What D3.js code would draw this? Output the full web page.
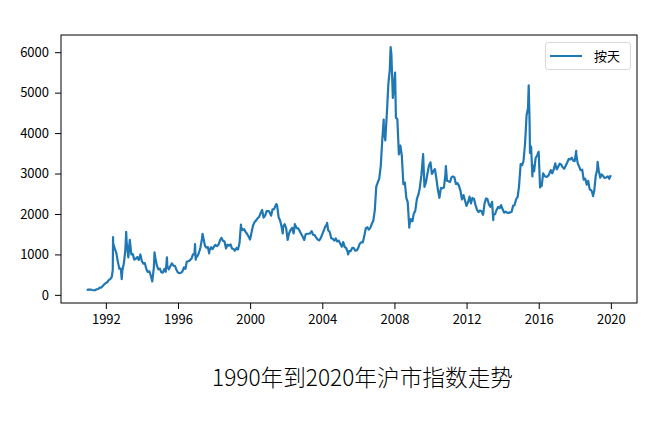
<!DOCTYPE html>
<html><head><meta charset="utf-8">
<script src="https://cdn.jsdelivr.net/npm/d3@7"></script>
<style>body{margin:0;background:#fff}svg{display:block}</style>
</head><body>
<svg id="chart" width="652" height="425"></svg>
<script>
const seriesName = "按天";
const chartTitle = "1990年到2020年沪市指数走势";
const xTickYears = [1992, 1996, 2000, 2004, 2008, 2012, 2016, 2020];
const yTickValues = [0, 1000, 2000, 3000, 4000, 5000, 6000];
const dates = [
"1990-12-19","1990-12-31",
"1991-01-31","1991-02-28","1991-03-29","1991-04-30","1991-05-31","1991-06-28","1991-07-31","1991-08-30","1991-09-30","1991-10-31","1991-11-29","1991-12-31",
"1992-01-31","1992-02-28","1992-03-31","1992-04-30","1992-05-20","1992-05-26","1992-05-29","1992-06-30","1992-07-31","1992-08-31","1992-09-30","1992-10-30","1992-11-17","1992-11-30","1992-12-31",
"1993-01-29","1993-02-16","1993-02-26","1993-03-31","1993-04-30","1993-05-31","1993-06-30","1993-07-30","1993-08-31","1993-09-30","1993-10-29","1993-11-30","1993-12-31",
"1994-01-31","1994-02-28","1994-03-31","1994-04-29","1994-05-31","1994-06-30","1994-07-29","1994-08-31","1994-09-13","1994-09-30","1994-10-31","1994-11-30","1994-12-30",
"1995-01-27","1995-02-28","1995-03-31","1995-04-28","1995-05-22","1995-05-31","1995-06-30","1995-07-31","1995-08-31","1995-09-29","1995-10-31","1995-11-30","1995-12-29",
"1996-01-31","1996-02-29","1996-03-29","1996-04-30","1996-05-31","1996-06-28","1996-07-31","1996-08-30","1996-09-30","1996-10-31","1996-11-29","1996-12-11","1996-12-24","1996-12-31",
"1997-01-31","1997-02-28","1997-03-31","1997-04-30","1997-05-12","1997-05-30","1997-06-30","1997-07-31","1997-08-29","1997-09-23","1997-09-30","1997-10-31","1997-11-28","1997-12-31",
"1998-01-23","1998-02-27","1998-03-31","1998-04-30","1998-05-29","1998-06-30","1998-07-31","1998-08-31","1998-09-30","1998-10-30","1998-11-30","1998-12-31",
"1999-01-29","1999-02-26","1999-03-31","1999-04-30","1999-05-31","1999-06-29","1999-06-30","1999-07-30","1999-08-31","1999-09-30","1999-10-29","1999-11-30","1999-12-30",
"2000-01-28","2000-02-29","2000-03-31","2000-04-28","2000-05-31","2000-06-30","2000-07-31","2000-08-31","2000-09-29","2000-10-31","2000-11-30","2000-12-29",
"2001-01-19","2001-02-28","2001-03-30","2001-04-30","2001-05-31","2001-06-14","2001-06-29","2001-07-31","2001-08-31","2001-09-28","2001-10-22","2001-10-31","2001-11-30","2001-12-31",
"2002-01-29","2002-02-28","2002-03-29","2002-04-30","2002-05-31","2002-06-24","2002-06-28","2002-07-31","2002-08-30","2002-09-30","2002-10-31","2002-11-29","2002-12-31",
"2003-01-30","2003-02-28","2003-03-31","2003-04-30","2003-05-30","2003-06-30","2003-07-31","2003-08-29","2003-09-30","2003-10-31","2003-11-28","2003-12-31",
"2004-01-30","2004-02-27","2004-03-31","2004-04-07","2004-04-30","2004-05-31","2004-06-30","2004-07-30","2004-08-31","2004-09-30","2004-10-29","2004-11-30","2004-12-31",
"2005-01-31","2005-02-28","2005-03-31","2005-04-29","2005-05-31","2005-06-06","2005-06-30","2005-07-29","2005-08-31","2005-09-30","2005-10-31","2005-11-30","2005-12-30",
"2006-01-25","2006-02-28","2006-03-31","2006-04-28","2006-05-31","2006-06-30","2006-07-31","2006-08-31","2006-09-29","2006-10-31","2006-11-30","2006-12-29",
"2007-01-31","2007-02-28","2007-03-30","2007-04-30","2007-05-29","2007-05-31","2007-06-29","2007-07-31","2007-08-31","2007-09-28","2007-10-16","2007-10-31","2007-11-30","2007-12-28",
"2008-01-14","2008-01-31","2008-02-29","2008-03-31","2008-04-30","2008-05-30","2008-06-30","2008-07-31","2008-08-29","2008-09-26","2008-10-28","2008-10-31","2008-11-28","2008-12-31",
"2009-01-23","2009-02-27","2009-03-31","2009-04-30","2009-05-27","2009-06-30","2009-07-31","2009-08-04","2009-08-31","2009-09-30","2009-10-30","2009-11-30","2009-12-31",
"2010-01-29","2010-02-26","2010-03-31","2010-04-30","2010-05-31","2010-06-30","2010-07-30","2010-08-31","2010-09-30","2010-10-29","2010-11-08","2010-11-30","2010-12-31",
"2011-01-31","2011-02-28","2011-03-31","2011-04-29","2011-05-31","2011-06-30","2011-07-29","2011-08-31","2011-09-30","2011-10-31","2011-11-30","2011-12-30",
"2012-01-31","2012-02-29","2012-03-30","2012-04-27","2012-05-31","2012-06-29","2012-07-31","2012-08-31","2012-09-28","2012-10-31","2012-11-30","2012-12-31",
"2013-01-31","2013-02-28","2013-03-29","2013-04-26","2013-05-31","2013-06-25","2013-06-28","2013-07-31","2013-08-30","2013-09-30","2013-10-31","2013-11-29","2013-12-31",
"2014-01-30","2014-02-28","2014-03-31","2014-04-30","2014-05-30","2014-06-30","2014-07-31","2014-08-29","2014-09-30","2014-10-31","2014-11-28","2014-12-31",
"2015-01-30","2015-02-27","2015-03-31","2015-04-30","2015-05-29","2015-06-12","2015-06-30","2015-07-08","2015-07-31","2015-08-26","2015-08-31","2015-09-30","2015-10-30","2015-11-30","2015-12-31",
"2016-01-28","2016-01-29","2016-02-29","2016-03-31","2016-04-29","2016-05-31","2016-06-30","2016-07-29","2016-08-31","2016-09-30","2016-10-31","2016-11-30","2016-12-30",
"2017-01-26","2017-02-28","2017-03-31","2017-04-28","2017-05-31","2017-06-30","2017-07-31","2017-08-31","2017-09-29","2017-10-31","2017-11-30","2017-12-29",
"2018-01-29","2018-01-31","2018-02-28","2018-03-30","2018-04-27","2018-05-31","2018-06-29","2018-07-31","2018-08-31","2018-09-28","2018-10-31","2018-11-30","2018-12-28",
"2019-01-04","2019-01-31","2019-02-28","2019-03-29","2019-04-08","2019-04-30","2019-05-31","2019-06-28","2019-07-31","2019-08-30","2019-09-30","2019-10-31","2019-11-29","2019-12-31"
];
const values = [
100,128,
130,133,120,114,115,138,145,178,181,219,260,293,
313,365,388,442,617,1429,1266,1142,1038,822,647,649,387,600,780,
1103,1558,1300,925,1358,1000,1007,872,893,934,863,999,834,
770,787,640,568,581,472,333,686,1052,913,723,632,648,
562,549,643,570,926,700,630,714,780,720,716,622,555,
537,548,575,680,643,823,831,855,898,1004,1000,1258,869,917,
964,1040,1172,1383,1510,1398,1214,1166,1180,1025,1097,1180,1130,1194,
1233,1206,1243,1343,1411,1339,1318,1149,1240,1217,1248,1146,
1134,1091,1158,1120,1280,1739,1689,1601,1627,1556,1512,1442,1366,
1535,1714,1801,1836,1894,1928,2023,2100,1910,1961,2070,2073,
2065,1959,2112,2119,2214,2245,2218,1920,1834,1688,1520,1690,1747,1646,
1358,1524,1603,1658,1518,1748,1733,1651,1646,1581,1507,1442,1357,
1499,1511,1511,1521,1577,1487,1476,1421,1367,1348,1397,1497,
1590,1675,1742,1783,1595,1555,1399,1386,1342,1396,1320,1341,1266,
1191,1306,1181,1159,1060,998,1080,1083,1162,1155,1092,1099,1161,
1258,1299,1298,1440,1642,1672,1612,1658,1752,1837,2099,2675,
2786,2881,3183,3841,4335,4109,3820,4471,5218,5552,6124,5954,4871,5261,
5497,4383,4348,3472,3693,3433,2736,2776,2397,2293,1664,1728,1871,1821,
1991,2082,2373,2477,2632,2959,3412,3478,2667,2779,2995,3195,3277,
2989,3051,3109,2870,2592,2398,2638,2638,2655,2979,3186,2820,2808,
2791,2905,2928,2911,2743,2762,2701,2567,2359,2468,2333,2199,
2292,2428,2262,2396,2372,2225,2103,2047,2086,2068,1980,2269,
2385,2365,2236,2177,2300,1849,1979,1993,2098,2174,2141,2220,2116,
2033,2056,2033,2026,2039,2048,2201,2217,2364,2420,2683,3235,
3210,3310,3748,4442,4612,5178,4277,3507,3664,2927,3206,3053,3383,3445,3539,
2655,2738,2688,3004,2938,2917,2930,2979,3085,3005,3100,3250,3104,
3159,3242,3223,3155,3117,3192,3273,3361,3349,3393,3317,3307,
3559,3481,3259,3169,3082,3095,2847,2876,2725,2821,2603,2588,2494,
2440,2585,2941,3091,3288,3078,2898,2979,2933,2886,2905,2929,2871,2960
];

const parse = d3.timeParse("%Y-%m-%d");
const data = dates.map((d, i) => ({ date: parse(d), value: values[i] }));

const svg = d3.select("#chart");
const plotLeft = 61, plotRight = 637, plotTop = 35, plotBottom = 303;
const font = "'Noto Sans CJK SC', 'Microsoft YaHei', sans-serif";

const xExt = d3.extent(data, d => d.date);
const xPad = (xExt[1] - xExt[0]) * 0.05;
const x = d3.scaleTime()
  .domain([new Date(+xExt[0] - xPad), new Date(+xExt[1] + xPad)])
  .range([plotLeft, plotRight]);
const yExt = d3.extent(data, d => d.value);
const yPad = (yExt[1] - yExt[0]) * 0.05;
const y = d3.scaleLinear()
  .domain([yExt[0] - yPad, yExt[1] + yPad])
  .range([plotBottom, plotTop]);

// line
const line = d3.line().x(d => x(d.date)).y(d => y(d.value));
svg.append("path").datum(data)
  .attr("d", line)
  .attr("fill", "none")
  .attr("stroke", "#1f77b4")
  .attr("stroke-width", 2.2)
  .attr("stroke-linejoin", "round");

// axes
const xAxis = d3.axisBottom(x)
  .tickValues(xTickYears.map(yr => new Date(yr, 0, 1)))
  .tickFormat(d3.timeFormat("%Y"))
  .tickSize(6).tickPadding(6);
const yAxis = d3.axisLeft(y)
  .tickValues(yTickValues)
  .tickFormat(d3.format("d"))
  .tickSize(6).tickPadding(6);

const gx = svg.append("g").attr("transform", `translate(0,${plotBottom})`).call(xAxis);
const gy = svg.append("g").attr("transform", `translate(${plotLeft},0)`).call(yAxis);
[gx, gy].forEach(g => {
  g.select(".domain").remove();
  g.selectAll(".tick line").attr("stroke", "#000").attr("stroke-width", 1);
  g.selectAll(".tick text").attr("fill", "#000").style("font-family", font).style("font-size", "13px");
});

// frame
svg.append("rect")
  .attr("x", plotLeft).attr("y", plotTop)
  .attr("width", plotRight - plotLeft).attr("height", plotBottom - plotTop)
  .attr("fill", "none").attr("stroke", "#000").attr("stroke-width", 1);

// legend
const lg = svg.append("g");
lg.append("rect")
  .attr("x", 545.5).attr("y", 42.5).attr("width", 85).attr("height", 27).attr("rx", 2.5)
  .attr("fill", "#fff").attr("fill-opacity", 0.8).attr("stroke", "#d9d9d9").attr("stroke-width", 1);
lg.append("line")
  .attr("x1", 550).attr("x2", 582).attr("y1", 56).attr("y2", 56)
  .attr("stroke", "#1f77b4").attr("stroke-width", 2);
lg.append("text")
  .attr("x", 594).attr("y", 61)
  .style("font-family", font).style("font-size", "13px").attr("fill", "#000")
  .text(seriesName);

// title
svg.append("text")
  .attr("x", 362.5).attr("y", 386)
  .attr("text-anchor", "middle")
  .style("font-family", font).style("font-size", "23px").style("font-weight", 300).attr("fill", "#000")
  .attr("textLength", 301).attr("lengthAdjust", "spacingAndGlyphs")
  .text(chartTitle);
</script>
</body></html>
